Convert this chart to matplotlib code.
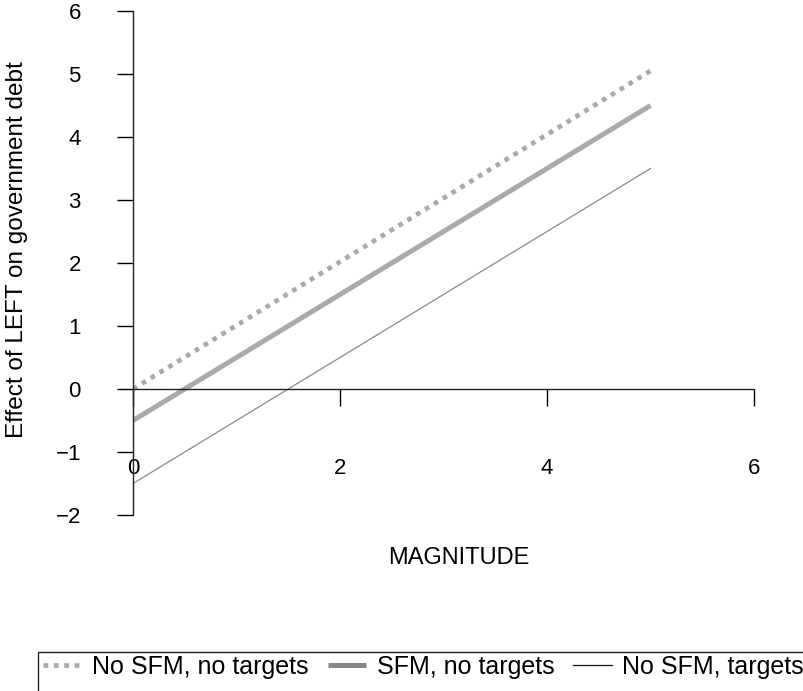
import matplotlib
matplotlib.use("Agg")
import matplotlib.pyplot as plt
from matplotlib.patches import Rectangle

plt.rcParams["font.family"] = ["Liberation Sans", "DejaVu Sans"]

# data: effect lines evaluated at MAGNITUDE 0 and 5
magnitude = [0, 5]
no_sfm_no_targets = [0.0, 5.05]
sfm_no_targets = [-0.5, 4.5]
no_sfm_targets = [-1.5, 3.5]

x_ticks = [0, 2, 4, 6]
y_ticks = [-2, -1, 0, 1, 2, 3, 4, 5, 6]
y_tick_labels = ["\u22122", "\u22121", "0", "1", "2", "3", "4", "5", "6"]

W, H = 804, 691
fig = plt.figure(figsize=(W / 100, H / 100), dpi=100)
ax = fig.add_axes([133 / W, 1 - 515 / H, (754 - 133) / W, (515 - 11) / H])

ax.plot(magnitude, no_sfm_no_targets, color="#aaaaaa", lw=3.4, ls=(0, (1, 1.2)),
        label="No SFM, no targets")
ax.plot(magnitude, sfm_no_targets, color="#aaaaaa", lw=3.6, solid_capstyle="butt",
        label="SFM, no targets")
ax.plot(magnitude, no_sfm_targets, color="#8a8a8a", lw=0.9, label="No SFM, targets")

ax.set_xlim(0, 6)
ax.set_ylim(-2, 6)
ax.spines["top"].set_visible(False)
ax.spines["right"].set_visible(False)
ax.spines["bottom"].set_position(("data", 0))
for s in ("left", "bottom"):
    ax.spines[s].set_linewidth(1.0)
    ax.spines[s].set_color("#222222")

ax.set_xticks(x_ticks)
ax.set_yticks(y_ticks)
ax.set_yticklabels(y_tick_labels)
ax.tick_params(axis="y", direction="out", length=11.5, width=1, pad=26, labelsize=16)
ax.tick_params(axis="x", direction="out", length=12, width=1, pad=38, labelsize=16)

ax.set_ylabel("Effect of LEFT on government debt", fontsize=17.5)
ax.set_xlabel("MAGNITUDE", fontsize=17)
ax.xaxis.label.set_va("center")
ax.yaxis.label.set_va("center")
ax.xaxis.set_label_coords((459 - 133) / 621, -(558 - 515) / 504)
ax.yaxis.set_label_coords((17 - 133) / 621, (515 - 250) / 504)

# legend without its own frame; the frame runs off the bottom and right edges
leg = fig.legend(loc="upper left", bbox_to_anchor=(43 / W, 1 - 655 / H), ncol=3,
                 fontsize=18, frameon=False, handlelength=1.55,
                 handletextpad=0.42, columnspacing=0.75, borderpad=0.0,
                 borderaxespad=0)
leg.legend_handles[1].set_color("#888888")
leg.legend_handles[2].set_color("#111111")
fig.patches.append(Rectangle((38 / W, -0.05), 1.0, (1 - 652 / H) + 0.05,
                             transform=fig.transFigure, fill=False,
                             edgecolor="#222222", lw=1.0))

fig.savefig("out.png", dpi=100)
